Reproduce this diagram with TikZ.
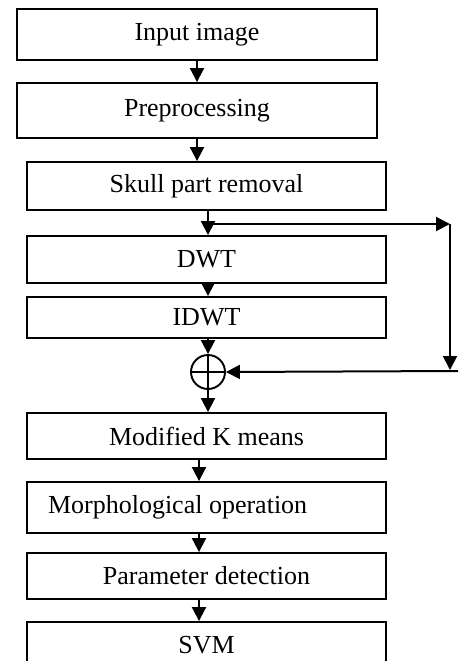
\documentclass[tikz,border=0pt]{standalone}
\usepackage{fontspec}
\setmainfont{Liberation Serif}
\usetikzlibrary{arrows.meta, calc, positioning}
\tikzset{
  stage/.style = {draw, line width=1.9pt, minimum width=359pt, inner sep=0pt,
                  font=\fontsize{26}{30}\selectfont},
  flow/.style  = {line width=2pt, -{Triangle[length=14pt,width=14pt]}},
  sum/.style   = {draw, circle, line width=1.9pt, minimum size=34pt, inner sep=0pt}
}

\begin{document}
\begin{tikzpicture}[x=1pt, y=-1pt]
\useasboundingbox (0,0) rectangle (462,661);

% Stages of the pipeline
\node[stage, minimum width=360pt, minimum height=51pt] (input) at (197, 34.5) {Input image};
\node[stage, minimum width=360pt, minimum height=55pt] (prep) at (197, 110.5) {Preprocessing};
\node[stage, minimum height=48pt] (skull) at (206.5, 186) {Skull part removal};
\node[stage, minimum height=47pt] (dwt) at (206.5, 259.5) {DWT};
\node[stage, minimum height=41pt] (idwt) at (206.5, 317.5) {IDWT};
\node[sum] (add) at (208, 372) {};
\draw[line width=1.4pt] (add.north) -- (add.south) (add.west) -- (add.east);
\node[stage, minimum height=46pt] (kmeans) at (206.5, 436) {Modified K means};
\node[stage, minimum height=51pt, text width=317pt, align=flush left, inner xsep=21pt] (morph) at (206.5, 507.5) {Morphological operation};
\node[stage, minimum height=46pt] (param) at (206.5, 576) {Parameter detection};
\node[stage, minimum height=46pt] (svm) at (206.5, 645) {SVM};

% Helper points
\coordinate (split) at (208, 224);
\coordinate (corner) at (450, 224);
\coordinate (bend) at (450, 370);
\coordinate (tail) at (458, 371);
\coordinate (lane) at (199, 0);

% Main flow
\draw[flow] (input.south) -- (prep.north);
\draw[flow] (prep.south) -- (prep.south |- skull.north);
\draw[flow] (skull.south -| split) -- (dwt.north -| split);
\draw[flow] (dwt.south -| add) -- (idwt.north -| add);
\draw[flow] (idwt.south -| add) -- (add.north);
\draw[flow] (add.south) -- (kmeans.north -| add);
\draw[flow] (kmeans.south -| lane) -- (morph.north -| lane);
\draw[flow] (morph.south -| lane) -- (param.north -| lane);
\draw[flow] (param.south -| lane) -- (svm.north -| lane);

% Bypass branch to the adder
\draw[flow] (split) -- (corner);
\draw[flow] (corner) -- (bend);
\draw[flow] (tail) -- (add.east);
\end{tikzpicture}
\end{document}
